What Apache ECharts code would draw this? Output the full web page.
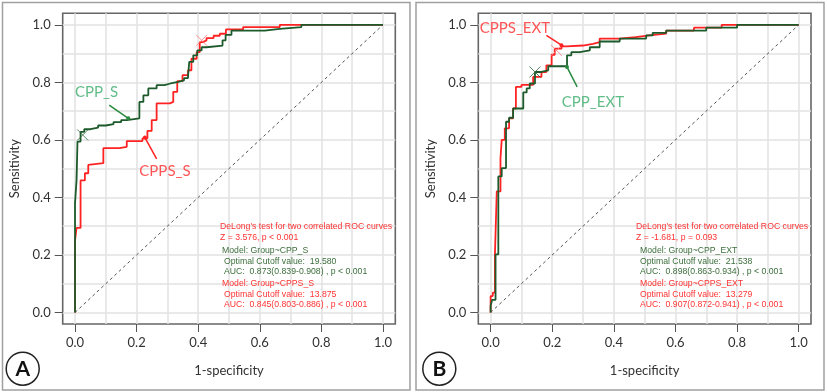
<!DOCTYPE html>
<html><head><meta charset="utf-8">
<script src="https://cdn.jsdelivr.net/npm/echarts@6/dist/echarts.min.js"></script>
<style>html,body{margin:0;padding:0;background:#fff}#c{width:827px;height:392px}</style>
</head><body><div id="c"></div>
<script>
// ---- data ----
const tickVals = [0, 0.2, 0.4, 0.6, 0.8, 1.0];
const gridVals = [0, 0.1, 0.2, 0.3, 0.4, 0.5, 0.6, 0.7, 0.8, 0.9, 1.0];
const diagFpr = [0, 1];
const diagTpr = [0, 1];

// Panel A: CPP_S (green)
const aGreenFpr = [0,0,0.005,0.005,0.008,0.008,0.018,0.018,0.03,0.03,0.05,0.05,0.075,0.075,0.1,0.1,0.125,0.125,0.15,0.15,0.168,0.168,0.209,0.209,0.222,0.222,0.238,0.238,0.265,0.265,0.29,0.29,0.31,0.31,0.335,0.335,0.354,0.354,0.367,0.367,0.371,0.371,0.384,0.384,0.397,0.397,0.411,0.411,0.427,0.427,0.479,0.479,0.489,0.489,0.508,0.508,0.616,0.616,0.665,0.665,0.735,0.735,1];
const aGreenTpr = [0,0.38,0.38,0.46,0.46,0.594,0.594,0.628,0.628,0.637,0.637,0.643,0.643,0.65,0.65,0.655,0.655,0.662,0.662,0.669,0.669,0.675,0.675,0.732,0.732,0.755,0.755,0.779,0.779,0.79,0.79,0.796,0.796,0.802,0.802,0.807,0.807,0.815,0.815,0.822,0.822,0.871,0.871,0.894,0.894,0.911,0.911,0.922,0.922,0.928,0.928,0.946,0.946,0.965,0.965,0.98,0.98,0.986,0.986,0.992,0.992,1,1];
// Panel A: CPPS_S (red)
const aRedFpr = [0,0,0.005,0.005,0.018,0.018,0.032,0.032,0.043,0.043,0.049,0.049,0.092,0.092,0.144,0.144,0.168,0.168,0.219,0.219,0.235,0.235,0.249,0.249,0.265,0.265,0.308,0.308,0.319,0.319,0.332,0.332,0.349,0.349,0.367,0.367,0.378,0.378,0.395,0.395,0.405,0.405,0.415,0.415,0.427,0.427,0.45,0.45,0.47,0.47,0.49,0.49,0.546,0.546,0.665,0.665,1];
const aRedTpr = [0,0.25,0.25,0.294,0.294,0.459,0.459,0.484,0.484,0.513,0.513,0.519,0.519,0.571,0.571,0.576,0.576,0.596,0.596,0.605,0.605,0.631,0.631,0.669,0.669,0.727,0.727,0.732,0.732,0.767,0.767,0.804,0.804,0.825,0.825,0.842,0.842,0.882,0.882,0.905,0.905,0.94,0.94,0.946,0.946,0.954,0.954,0.962,0.962,0.969,0.969,0.984,0.984,0.992,0.992,1,1];

// Panel B: CPP_EXT (green)
const bGreenFpr = [0,0,0.005,0.005,0.016,0.016,0.025,0.025,0.036,0.036,0.05,0.05,0.06,0.06,0.073,0.073,0.106,0.106,0.117,0.117,0.127,0.127,0.144,0.144,0.165,0.165,0.187,0.187,0.248,0.248,0.262,0.262,0.289,0.289,0.322,0.322,0.354,0.354,0.419,0.419,0.505,0.505,0.526,0.526,0.57,0.57,0.7,0.7,0.8,0.8,1];
const bGreenTpr = [0,0.023,0.023,0.044,0.044,0.202,0.202,0.473,0.473,0.502,0.502,0.663,0.663,0.677,0.677,0.709,0.709,0.765,0.765,0.779,0.779,0.796,0.796,0.836,0.836,0.842,0.842,0.856,0.856,0.894,0.894,0.905,0.905,0.911,0.911,0.922,0.922,0.942,0.942,0.952,0.952,0.963,0.963,0.972,0.972,0.98,0.98,0.99,0.99,1,1];
// Panel B: CPPS_EXT (red)
const bRedFpr = [0,0,0.007,0.007,0.014,0.014,0.02,0.02,0.032,0.032,0.036,0.036,0.046,0.046,0.06,0.06,0.073,0.073,0.082,0.082,0.1,0.1,0.138,0.138,0.165,0.165,0.181,0.181,0.198,0.198,0.208,0.208,0.23,0.23,0.246,0.246,0.3,0.3,0.332,0.332,0.354,0.354,0.419,0.419,0.47,0.47,0.516,0.516,0.57,0.57,0.66,0.66,0.75,0.75,1];
const bRedTpr = [0,0.057,0.057,0.069,0.069,0.202,0.202,0.421,0.421,0.536,0.536,0.6,0.6,0.64,0.64,0.675,0.675,0.709,0.709,0.784,0.784,0.791,0.791,0.819,0.819,0.836,0.836,0.859,0.859,0.896,0.896,0.917,0.917,0.925,0.925,0.928,0.928,0.934,0.934,0.94,0.94,0.952,0.952,0.957,0.957,0.963,0.963,0.969,0.969,0.98,0.98,0.99,0.99,1,1];

// optimal cutoff markers [fpr, tpr]
const aGreenCut = [0.025, 0.617];
const aRedCut = [0.411, 0.946];
const bGreenCut = [0.144, 0.836];
const bRedCut = [0.214, 0.911];

// curve name labels and leader lines (data coordinates; second point touches the curve)
const aGreenName = 'CPP_S',   aGreenNamePos = [0.070, 0.765], aGreenLead = [[0.111, 0.721], [0.173, 0.675]];
const aRedName = 'CPPS_S',    aRedNamePos = [0.292, 0.490],   aRedLead = [[0.265, 0.534], [0.227, 0.608]];
const bRedName = 'CPPS_EXT',  bRedNamePos = [0.079, 0.988],   bRedLead = [[0.181, 0.963], [0.230, 0.929]];
const bGreenName = 'CPP_EXT', bGreenNamePos = [0.332, 0.732], bGreenLead = [[0.281, 0.784], [0.248, 0.853]];

const annoA = ["DeLong's test for two correlated ROC curves", "Z = 3.576, p < 0.001", "Model: Group~CPP_S", "Optimal Cutoff value:  19.580", "AUC:  0.873(0.839-0.908) , p < 0.001", "Model: Group~CPPS_S", "Optimal Cutoff value:  13.875", "AUC:  0.845(0.803-0.886) , p < 0.001"];
const annoB = ["DeLong's test for two correlated ROC curves", "Z = -1.681, p = 0.093", "Model: Group~CPP_EXT", "Optimal Cutoff value:  21.538", "AUC:  0.898(0.863-0.934) , p < 0.001", "Model: Group~CPPS_EXT", "Optimal Cutoff value:  13.279", "AUC:  0.907(0.872-0.941) , p < 0.001"];
const annoColorKey = ['r','r','g','g','g','r','r','r'];
const xTitle = '1-specificity', yTitle = 'Sensitivity';
const badges = ['A', 'B'];

// ---- styles ----
const RED = '#ff2222', GREEN = '#1d5a2b', RED_TXT = '#ff3333', GREEN_TXT = '#3c6e3c';
const LABEL_GREEN = '#3aac6a', LABEL_RED = '#ff2a2a';
const FONT = 'Lato';

const zip = (a, b) => a.map((v, i) => [v, b[i]]);

const grids = [
  {left: 62.7, top: 13.3, width: 332.6, height: 310.7},
  {left: 478.3, top: 13.3, width: 332.7, height: 310.7}
];

const xAxes = [], yAxes = [], series = [];
grids.forEach((g, i) => {
  xAxes.push({
    type: 'value', gridIndex: i, min: -0.04, max: 1.04,
    axisLine: {show: false, onZero: false},
    axisTick: {show: true, length: 8, customValues: tickVals, lineStyle: {color: '#555', width: 1}},
    axisLabel: {customValues: tickVals, formatter: v => v.toFixed(1), margin: 12, fontFamily: FONT, fontSize: 13, color: '#333'},
    splitLine: {show: false},
    name: xTitle, nameLocation: 'middle', nameGap: 40,
    nameTextStyle: {fontFamily: FONT, fontSize: 13, color: '#333'}
  });
  xAxes.push({
    type: 'value', gridIndex: i, min: -0.04, max: 1.04,
    axisLine: {show: false, onZero: false},
    axisTick: {show: false, customValues: gridVals},
    axisLabel: {show: false},
    splitLine: {show: true, lineStyle: {color: '#e2e2e2', width: 1.5}}
  });
  yAxes.push({
    type: 'value', gridIndex: i, min: -0.04, max: 1.04,
    axisLine: {show: false, onZero: false},
    axisTick: {show: true, length: 8, customValues: tickVals, lineStyle: {color: '#555', width: 1}},
    axisLabel: {customValues: tickVals, formatter: v => v.toFixed(1), margin: 12, fontFamily: FONT, fontSize: 13, color: '#333'},
    splitLine: {show: false},
    name: yTitle, nameLocation: 'middle', nameGap: 41, nameRotate: 90,
    nameTextStyle: {fontFamily: FONT, fontSize: 13, color: '#333'}
  });
  yAxes.push({
    type: 'value', gridIndex: i, min: -0.04, max: 1.04,
    axisLine: {show: false, onZero: false},
    axisTick: {show: false, customValues: gridVals},
    axisLabel: {show: false},
    splitLine: {show: true, lineStyle: {color: '#e2e2e2', width: 1.5}}
  });
});

function addPanel(i, redF, redT, greenF, greenT, gCut, rCut, names) {
  const ax = {xAxisIndex: 2 * i, yAxisIndex: 2 * i};
  series.push(Object.assign({type: 'line', data: zip(diagFpr, diagTpr), symbol: 'none',
    lineStyle: {color: '#555', width: 1, type: [3, 3]}, z: 2}, ax));
  series.push(Object.assign({type: 'line', data: zip(redF, redT), symbol: 'none',
    lineStyle: {color: RED, width: 1.8}, z: 3}, ax));
  series.push(Object.assign({type: 'line', data: zip(greenF, greenT), symbol: 'none',
    lineStyle: {color: GREEN, width: 1.8}, z: 4}, ax));
  const xPath = 'path://M0,0L10,10M10,0L0,10';
  series.push(Object.assign({type: 'scatter', data: [gCut], symbol: xPath, symbolSize: 11,
    itemStyle: {color: 'none', borderColor: '#2f6a3a', borderWidth: 1}, z: 5}, ax));
  series.push(Object.assign({type: 'scatter', data: [rCut], symbol: xPath, symbolSize: 11,
    itemStyle: {color: 'none', borderColor: '#ff7a7a', borderWidth: 1}, z: 5}, ax));
  names.forEach(n => {
    series.push(Object.assign({type: 'line', showSymbol: true, z: 6,
      data: [{value: n.lead[0], symbol: 'none'}, {value: n.lead[1], symbol: 'circle', symbolSize: 4}],
      lineStyle: {color: n.lineColor, width: 1.5}, itemStyle: {color: n.lineColor}}, ax));
    series.push(Object.assign({type: 'scatter', symbolSize: 1, z: 7,
      data: [{value: n.pos, name: n.name}],
      itemStyle: {color: 'transparent'},
      label: {show: true, position: 'inside', formatter: '{b}', fontFamily: FONT, fontSize: 15, color: n.textColor}}, ax));
  });
}

addPanel(0, aRedFpr, aRedTpr, aGreenFpr, aGreenTpr, aGreenCut, aRedCut, [
  {name: aGreenName, pos: aGreenNamePos, lead: aGreenLead, lineColor: '#2a8a40', textColor: LABEL_GREEN},
  {name: aRedName, pos: aRedNamePos, lead: aRedLead, lineColor: RED, textColor: LABEL_RED}
]);
addPanel(1, bRedFpr, bRedTpr, bGreenFpr, bGreenTpr, bGreenCut, bRedCut, [
  {name: bRedName, pos: bRedNamePos, lead: bRedLead, lineColor: RED, textColor: LABEL_RED},
  {name: bGreenName, pos: bGreenNamePos, lead: bGreenLead, lineColor: '#2a8a40', textColor: LABEL_GREEN}
]);

// ---- graphics (frames, badges, annotation text) ----
const graphic = [];
graphic.push({type: 'rect', shape: {x: 2.5, y: 2.5, width: 407.5, height: 387.5}, style: {fill: 'none', stroke: '#a0a0a0', lineWidth: 1.5}, z: -10});
graphic.push({type: 'rect', shape: {x: 416, y: 2.5, width: 408, height: 387.5}, style: {fill: 'none', stroke: '#a0a0a0', lineWidth: 1.5}, z: -10});
const badgeX = [22.7, 439.3];
badges.forEach((b, i) => {
  graphic.push({type: 'circle', shape: {cx: badgeX[i], cy: 368.7, r: 16.5}, style: {fill: '#fff', stroke: '#222', lineWidth: 1.5}, z: 10});
  graphic.push({type: 'text', x: badgeX[i], y: 369.5, z: 11,
    style: {text: b, fontFamily: FONT, fontWeight: 'bold', fontSize: 21, fill: '#111', align: 'center', verticalAlign: 'middle'}});
});
const lineY = [226.7, 237.7, 250, 261, 271.7, 283.3, 294.3, 304.3];
const annoXA = [220, 220, 222, 224, 224, 222, 224, 224];
const annoXB = [636, 636, 640, 640, 640, 640, 640, 640];
[[annoA, annoXA], [annoB, annoXB]].forEach(([lines, xs]) => {
  lines.forEach((t, k) => {
    graphic.push({type: 'text', x: xs[k], y: lineY[k], scaleX: 0.915, z: 20,
      style: {text: t, fontFamily: 'Liberation Sans', fontSize: 9.5,
        fill: annoColorKey[k] === 'r' ? RED_TXT : GREEN_TXT, align: 'left', verticalAlign: 'middle'}});
  });
});

const chart = echarts.init(document.getElementById('c'), null, {renderer: 'canvas'});
chart.setOption({
  animation: false,
  backgroundColor: '#fff',
  grid: grids.map(g => Object.assign({show: true, borderColor: '#666', borderWidth: 1.6, backgroundColor: 'transparent', containLabel: false}, g)),
  xAxis: xAxes,
  yAxis: yAxes,
  series: series,
  graphic: graphic
});
</script>
</body></html>
